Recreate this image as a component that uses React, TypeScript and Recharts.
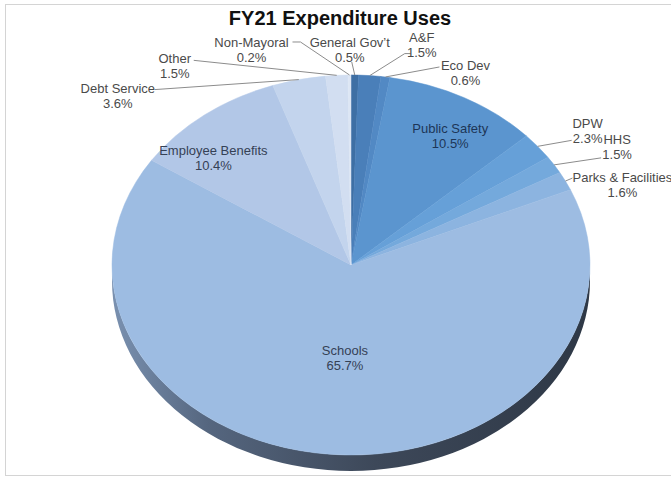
import React from 'react';
import { PieChart, Pie, Cell } from 'recharts';

// clockwise from 12 o'clock, as Excel lays them out
const categories = [
  'General Gov\u2019t', 'A&F', 'Eco Dev', 'Public Safety', 'DPW', 'HHS',
  'Parks & Facilities', 'Schools', 'Employee Benefits', 'Debt Service', 'Other', 'Non-Mayoral'
];
const shares = [0.5, 1.5, 0.6, 10.5, 2.3, 1.5, 1.6, 65.7, 10.4, 3.6, 1.5, 0.2];

const colors = [
  '#3e6fa4', '#4a7fb9', '#5289c4', '#5b95cf', '#66a0d8', '#74a9dc',
  '#8cb4e0', '#9dbce2', '#b2c7e7', '#c3d4ed', '#d2def1', '#dde6f4'
];

// label placement relative to the slice's rim point (dx, dy = text centre;
// line = leader end points; inside = label drawn on the slice)
const labelLayout: Record<string, any> = {
  'General Gov\u2019t': { dx: -5, dy: -33, line: [[-3, -13]] },
  'A&F': { dx: 52, dy: -39, line: [[35, -22], [41, -22]] },
  'Eco Dev': { dx: 80, dy: -12, line: [[54, -10]] },
  'Public Safety': { dx: -14, dy: 30, color: '#1d3557' },
  'DPW': { dx: 50, dy: -23, line: [[34, -6]] },
  'HHS': { dx: 63, dy: -26, line: [[47, -7]] },
  'Parks & Facilities': { dx: 57, dy: -4, line: [[7, -3]] },
  'Schools': { dx: 15, dy: -104, color: '#354155' },
  'Employee Benefits': { dx: 9, dy: 35, color: '#354155' },
  'Debt Service': { dx: -181, dy: 8, line: [[-144, 10]] },
  'Other': { dx: -162, dy: -17, line: [[-143, -15]] },
  'Non-Mayoral': { dx: -98, dy: -33, line: [[-49, -33], [-57, -33]] }
};

const data = categories.map((name, i) => ({ name, value: shares[i] }));

const RAD = Math.PI / 180;
const TILT = 0.795; // vertical squash of the tilted pie
const DEPTH = 16;
const FONT = '"Liberation Sans", Arial, sans-serif';

function EllipseSector(props: any) {
  const { cx, cy, outerRadius, startAngle, endAngle, fill } = props;
  const rx = outerRadius;
  const ry = outerRadius * TILT;
  const pt = (a: number) => [cx + rx * Math.cos(a * RAD), cy - ry * Math.sin(a * RAD)];
  const [x1, y1] = pt(startAngle);
  const [x2, y2] = pt(endAngle);
  const large = Math.abs(startAngle - endAngle) > 180 ? 1 : 0;
  const sweep = startAngle > endAngle ? 1 : 0;
  const face = `M${cx},${cy} L${x1},${y1} A${rx},${ry} 0 ${large} ${sweep} ${x2},${y2} Z`;

  // side wall for the part of the rim facing the viewer
  const lo = Math.max(Math.min(startAngle, endAngle), -180);
  const hi = Math.min(Math.max(startAngle, endAngle), 0);
  let wall = null;
  if (lo < hi) {
    const [hx, hy] = pt(hi);
    const [lx, ly] = pt(lo);
    const d = `M${hx},${hy} A${rx},${ry} 0 0 1 ${lx},${ly} L${lx},${ly + DEPTH} A${rx},${ry} 0 0 0 ${hx},${hy + DEPTH} Z`;
    wall = (
      <g>
        <defs>
          <linearGradient id="wallGrad" gradientUnits="userSpaceOnUse" x1={cx - rx} y1={0} x2={cx + rx} y2={0}>
            <stop offset="0" stopColor="#7a91b0" />
            <stop offset="0.2" stopColor="#55667f" />
            <stop offset="0.55" stopColor="#3d4859" />
            <stop offset="1" stopColor="#2e3846" />
          </linearGradient>
        </defs>
        <path d={d} fill="url(#wallGrad)" />
      </g>
    );
  }
  return (
    <g>
      {wall}
      <path d={face} fill={fill} stroke={fill} strokeWidth={0.5} />
    </g>
  );
}

function renderLabel(props: any) {
  const { cx, cy, midAngle, outerRadius, name, value } = props;
  const lay = labelLayout[name];
  if (!lay) return null;
  const ax = cx + outerRadius * Math.cos(midAngle * RAD);
  const ay = cy - outerRadius * TILT * Math.sin(midAngle * RAD);
  const tx = ax + lay.dx;
  const ty = ay + lay.dy;
  const pts = lay.line ? [[ax, ay], ...lay.line.map((p: number[]) => [ax + p[0], ay + p[1]])] : null;
  return (
    <g key={`lbl-${name}`}>
      {pts && (
        <polyline
          points={pts.map((p) => p.join(',')).join(' ')}
          fill="none"
          stroke="#8c8c8c"
          strokeWidth={1}
        />
      )}
      <text
        x={tx}
        y={ty}
        textAnchor="middle"
        dominantBaseline="central"
        fontFamily={FONT}
        fontSize={13}
        fill={lay.color || '#4a4a4a'}
      >
        <tspan x={tx} dy={0}>{name}</tspan>
        <tspan x={tx} dy={15}>{`${value.toFixed(1)}%`}</tspan>
      </text>
    </g>
  );
}

export default function App() {
  return (
    <div style={{ position: 'absolute', left: 0, top: 0, width: 671, height: 480, overflow: 'hidden', background: '#fff' }}>
      <div
        style={{
          position: 'absolute', left: 5, top: 4, width: 700, height: 472,
          border: '1.5px solid #d4d4d4', boxSizing: 'border-box'
        }}
      />
      <div
        style={{
          position: 'absolute', left: 0, top: 7, width: 680, textAlign: 'center',
          fontFamily: FONT, fontWeight: 'bold', fontSize: 20, color: '#111'
        }}
      >
        FY21 Expenditure Uses
      </div>
      <div style={{ position: 'absolute', left: 0, top: 0 }}>
        <PieChart width={671} height={480} margin={{ top: 0, right: 0, bottom: 0, left: 0 }}>
          <Pie
            data={data}
            dataKey="value"
            nameKey="name"
            cx={351}
            cy={265}
            outerRadius={239}
            startAngle={90}
            endAngle={-270}
            stroke="none"
            shape={EllipseSector}
            inactiveShape={EllipseSector}
            activeShape={EllipseSector}
            label={renderLabel}
            labelLine={false}
            isAnimationActive={false}
          >
            {data.map((d, i) => (
              <Cell key={`cell-${d.name}`} fill={colors[i]} />
            ))}
          </Pie>
        </PieChart>
      </div>
    </div>
  );
}
